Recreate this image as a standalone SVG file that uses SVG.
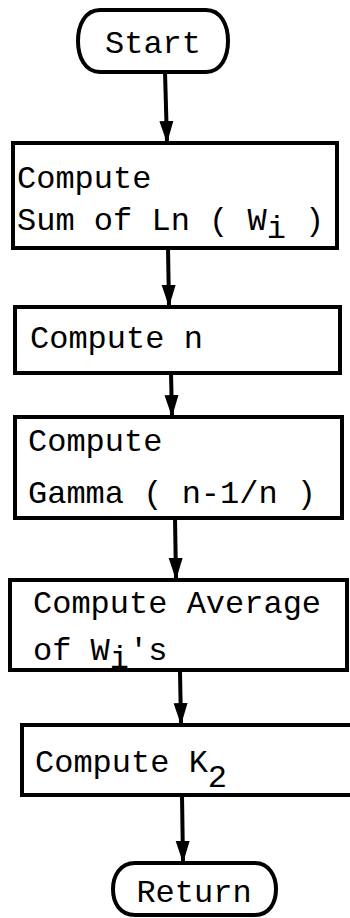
<svg xmlns="http://www.w3.org/2000/svg" width="350" height="918" viewBox="0 0 350 918">
<style>
.box{fill:#fff;stroke:#000;stroke-width:4;stroke-linejoin:miter}
.term{fill:#fff;stroke:#000;stroke-width:4}
.t{font-family:"Liberation Mono","DejaVu Sans Mono",monospace;font-size:32px;fill:#000}
.c{stroke:#000;stroke-width:4;fill:none;marker-end:url(#ah)}
</style>
<defs>
<marker id="ah" markerUnits="userSpaceOnUse" markerWidth="22" markerHeight="16" refX="21" refY="8" orient="auto" viewBox="0 0 22 16">
<path d="M0,1 L22,8 L0,15 Z" fill="#000"/>
</marker>
</defs>
<rect width="350" height="918" fill="#fff"/>
<g id="connectors">
<line class="c" x1="165" y1="72" x2="167" y2="142"/>
<line class="c" x1="168" y1="248" x2="169" y2="306"/>
<line class="c" x1="171" y1="373" x2="172" y2="416"/>
<line class="c" x1="175" y1="518" x2="176" y2="579"/>
<line class="c" x1="180" y1="672" x2="181" y2="724"/>
<line class="c" x1="182" y1="795" x2="183" y2="862"/>
</g>
<g id="start">
<path class="term" d="M100,10 H206 C221,10 228,25 228,41 C228,57 221,72 206,72 H100 C85,72 78,57 78,41 C78,25 85,10 100,10 Z"/>
<text class="t" x="153" y="53" text-anchor="middle">Start</text>
</g>
<g id="sumln">
<rect class="box" x="13" y="143" width="324" height="105"/>
<text class="t" x="17" y="188">Compute</text>
<text class="t" x="17" y="230">Sum of Ln ( W<tspan dy="8">i</tspan><tspan dy="-8"> )</tspan></text>
</g>
<g id="compn">
<rect class="box" x="15" y="307" width="325" height="66"/>
<text class="t" x="30" y="348">Compute n</text>
</g>
<g id="gamma">
<rect class="box" x="15" y="417" width="327" height="101"/>
<text class="t" x="28" y="451">Compute</text>
<text class="t" x="28" y="503">Gamma ( n-1/n )</text>
</g>
<g id="average">
<rect class="box" x="10" y="580" width="337" height="90"/>
<text class="t" x="33" y="613">Compute Average</text>
<text class="t" x="33" y="660">of W<tspan dy="8">i</tspan><tspan dy="-8">'s</tspan></text>
</g>
<g id="k2">
<rect class="box" x="22" y="725" width="340" height="70"/>
<text class="t" x="35" y="772">Compute K<tspan dy="15">2</tspan></text>
</g>
<g id="return">
<path class="term" d="M135,863 H255 C269,863 276,876 276,889 C276,903 269,915 255,915 H135 C120,915 113,903 113,889 C113,876 120,863 135,863 Z"/>
<text class="t" x="194" y="902" text-anchor="middle">Return</text>
</g>
</svg>
